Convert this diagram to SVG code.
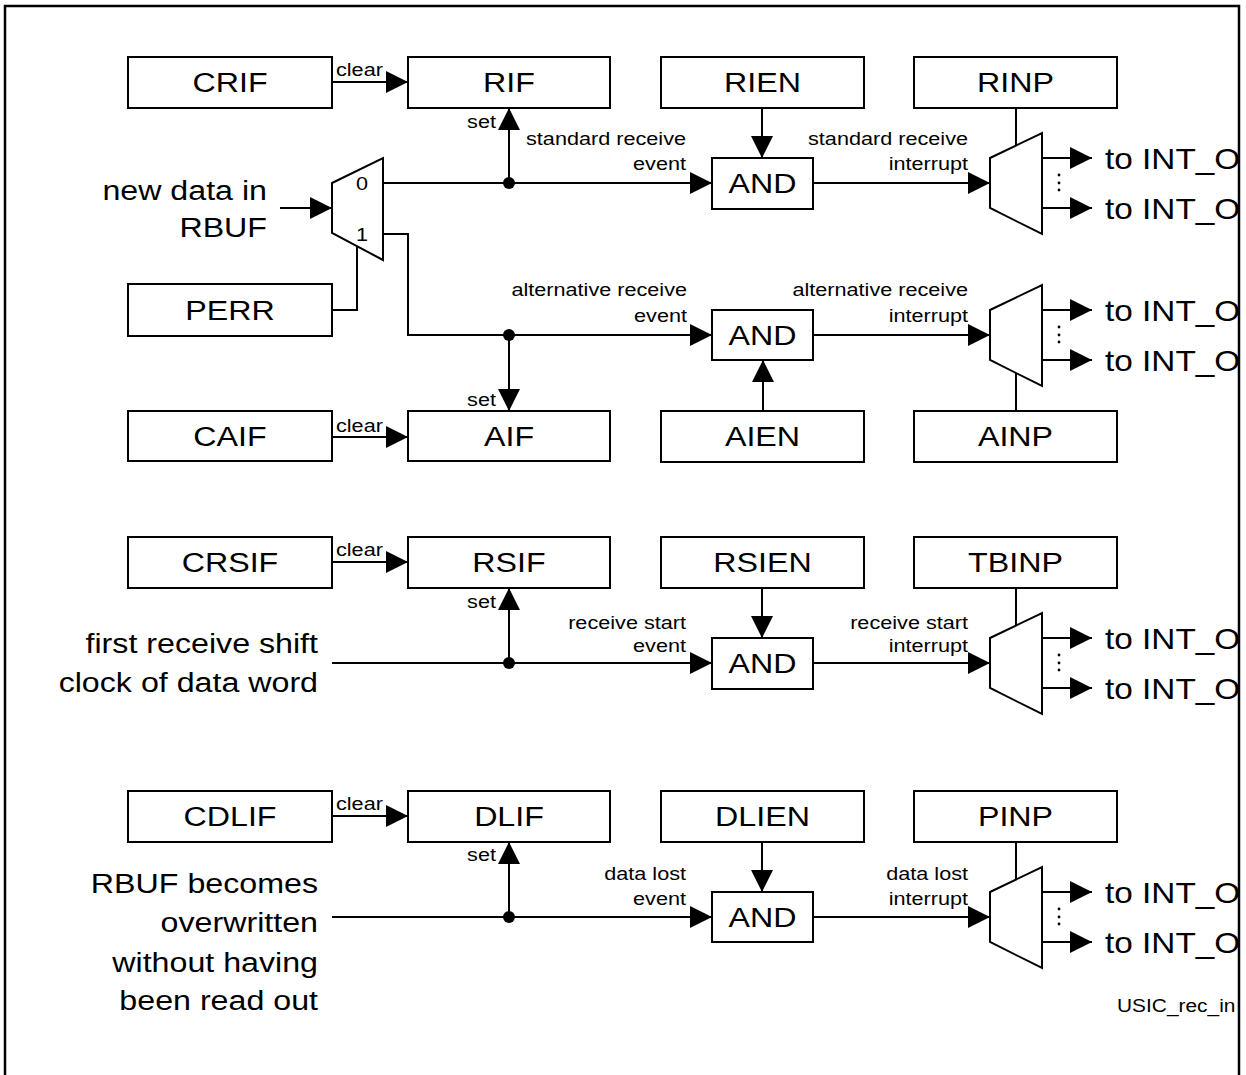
<svg xmlns="http://www.w3.org/2000/svg" width="1246" height="1075" viewBox="0 0 1246 1075">
<style>
.bx{fill:#fff;stroke:#000;stroke-width:2}
.w{fill:none;stroke:#000;stroke-width:2}
.mx{fill:#fff;stroke:#000;stroke-width:2;stroke-linejoin:miter}
.arr{marker-end:url(#ah)}
text{font-family:"Liberation Sans",Arial,sans-serif;fill:#000}
.b{font-size:28px}
.o{font-size:29px}
.s{font-size:18.5px}
.m{text-anchor:middle}
.e{text-anchor:end}
.dot{fill:#000}
</style>
<defs>
<marker id="ah" viewBox="0 0 22 22" refX="22" refY="11" markerWidth="22" markerHeight="22" markerUnits="userSpaceOnUse" orient="auto"><path d="M0,0 L22,11 L0,22 z" fill="#000"/></marker>
<clipPath id="frameclip"><rect x="0" y="0" width="1238" height="1075"/></clipPath>
</defs>
<rect width="1246" height="1075" fill="#fff"/>
<path d="M5,1075 V6 H1239 V1075" fill="none" stroke="#000" stroke-width="2.5"/>

<g id="connectors">
<path class="w arr" d="M332,82 H408"/>
<path class="w arr" d="M509,183 V108"/>
<path class="w arr" d="M383,183 H712"/>
<path class="w arr" d="M762,108 V158"/>
<path class="w arr" d="M813,183 H990"/>
<path class="w" d="M1016,108 V145.5"/>
<path class="w arr" d="M1042,158 H1092"/>
<path class="w arr" d="M1042,208 H1092"/>
<path class="w arr" d="M280,208 H332"/>
<path class="w" d="M332,310 H357 V246"/>
<path class="w arr" d="M383,234 H408 V335 H712"/>
<path class="w arr" d="M509,335 V411"/>
<path class="w arr" d="M332,437 H408"/>
<path class="w arr" d="M763,411 V360"/>
<path class="w arr" d="M813,335 H990"/>
<path class="w" d="M1016,411 V373"/>
<path class="w arr" d="M1042,310 H1092"/>
<path class="w arr" d="M1042,360 H1092"/>
<circle class="dot" cx="509" cy="183" r="6"/>
<circle class="dot" cx="509" cy="335" r="6"/>

<path class="w arr" d="M332,562 H408"/>
<path class="w arr" d="M332,663 H712"/>
<path class="w arr" d="M509,663 V588"/>
<path class="w arr" d="M762,588 V638"/>
<path class="w arr" d="M813,663 H990"/>
<path class="w" d="M1016,588 V625.5"/>
<path class="w arr" d="M1042,638 H1092"/>
<path class="w arr" d="M1042,688 H1092"/>
<circle class="dot" cx="509" cy="663" r="6"/>

<path class="w arr" d="M332,816 H408"/>
<path class="w arr" d="M332,917 H712"/>
<path class="w arr" d="M509,917 V842"/>
<path class="w arr" d="M762,842 V892"/>
<path class="w arr" d="M813,917 H990"/>
<path class="w" d="M1016,842 V879.5"/>
<path class="w arr" d="M1042,892 H1092"/>
<path class="w arr" d="M1042,942 H1092"/>
<circle class="dot" cx="509" cy="917" r="6"/>

<text class="s" transform="matrix(1.17 0 0 1 336 76)">clear</text>
<text class="s e" transform="matrix(1.17 0 0 1 496 128)">set</text>
<text class="s e" transform="matrix(1.17 0 0 1 686 145)">standard receive</text>
<text class="s e" transform="matrix(1.17 0 0 1 686 170)">event</text>
<text class="s e" transform="matrix(1.17 0 0 1 968 145)">standard receive</text>
<text class="s e" transform="matrix(1.17 0 0 1 968 170)">interrupt</text>
<text class="s e" transform="matrix(1.17 0 0 1 687 296)">alternative receive</text>
<text class="s e" transform="matrix(1.17 0 0 1 687 322)">event</text>
<text class="s e" transform="matrix(1.17 0 0 1 968 296)">alternative receive</text>
<text class="s e" transform="matrix(1.17 0 0 1 968 322)">interrupt</text>
<text class="s e" transform="matrix(1.17 0 0 1 496 406)">set</text>
<text class="s" transform="matrix(1.17 0 0 1 336 432)">clear</text>

<text class="s" transform="matrix(1.17 0 0 1 336 556)">clear</text>
<text class="s e" transform="matrix(1.17 0 0 1 496 608)">set</text>
<text class="s e" transform="matrix(1.17 0 0 1 686 629)">receive start</text>
<text class="s e" transform="matrix(1.17 0 0 1 686 652)">event</text>
<text class="s e" transform="matrix(1.17 0 0 1 968 629)">receive start</text>
<text class="s e" transform="matrix(1.17 0 0 1 968 652)">interrupt</text>

<text class="s" transform="matrix(1.17 0 0 1 336 810)">clear</text>
<text class="s e" transform="matrix(1.17 0 0 1 496 861)">set</text>
<text class="s e" transform="matrix(1.17 0 0 1 686 880)">data lost</text>
<text class="s e" transform="matrix(1.17 0 0 1 686 905)">event</text>
<text class="s e" transform="matrix(1.17 0 0 1 968 880)">data lost</text>
<text class="s e" transform="matrix(1.17 0 0 1 968 905)">interrupt</text>
</g>

<g id="inputs">
<text class="b e" transform="matrix(1.15 0 0 1 267 200)">new data in</text>
<text class="b e" transform="matrix(1.15 0 0 1 267 237)">RBUF</text>
<text class="b e" transform="matrix(1.15 0 0 1 318 653)">first receive shift</text>
<text class="b e" transform="matrix(1.15 0 0 1 318 692)">clock of data word</text>
<text class="b e" transform="matrix(1.15 0 0 1 318 893)">RBUF becomes</text>
<text class="b e" transform="matrix(1.15 0 0 1 318 932)">overwritten</text>
<text class="b e" transform="matrix(1.15 0 0 1 318 972)">without having</text>
<text class="b e" transform="matrix(1.15 0 0 1 318 1010)">been read out</text>
</g>

<g id="CRIF"><rect class="bx" x="128" y="57" width="204" height="51"/><text class="b m" transform="matrix(1.15 0 0 1 230 92)">CRIF</text></g>
<g id="RIF"><rect class="bx" x="408" y="57" width="202" height="51"/><text class="b m" transform="matrix(1.15 0 0 1 509 92)">RIF</text></g>
<g id="RIEN"><rect class="bx" x="661" y="57" width="203" height="51"/><text class="b m" transform="matrix(1.15 0 0 1 762.5 92)">RIEN</text></g>
<g id="RINP"><rect class="bx" x="914" y="57" width="203" height="51"/><text class="b m" transform="matrix(1.15 0 0 1 1015.5 92)">RINP</text></g>
<g id="AND1"><rect class="bx" x="712" y="158" width="101" height="51"/><text class="b m" transform="matrix(1.15 0 0 1 762.5 193)">AND</text></g>
<g id="MUXIN"><polygon class="mx" points="332,183 383,158 383,260 332,233"/>
<text class="s m" transform="matrix(1.17 0 0 1 362 190)">0</text>
<text class="s m" transform="matrix(1.17 0 0 1 362 241)">1</text></g>
<g id="PERR"><rect class="bx" x="128" y="284" width="204" height="52"/><text class="b m" transform="matrix(1.15 0 0 1 230 320)">PERR</text></g>
<g id="AND2"><rect class="bx" x="712" y="310" width="101" height="50"/><text class="b m" transform="matrix(1.15 0 0 1 762.5 345)">AND</text></g>
<g id="CAIF"><rect class="bx" x="128" y="411" width="204" height="50"/><text class="b m" transform="matrix(1.15 0 0 1 230 446)">CAIF</text></g>
<g id="AIF"><rect class="bx" x="408" y="411" width="202" height="50"/><text class="b m" transform="matrix(1.15 0 0 1 509 446)">AIF</text></g>
<g id="AIEN"><rect class="bx" x="661" y="411" width="203" height="51"/><text class="b m" transform="matrix(1.15 0 0 1 762.5 446)">AIEN</text></g>
<g id="AINP"><rect class="bx" x="914" y="411" width="203" height="51"/><text class="b m" transform="matrix(1.15 0 0 1 1015.5 446)">AINP</text></g>

<g id="CRSIF"><rect class="bx" x="128" y="537" width="204" height="51"/><text class="b m" transform="matrix(1.15 0 0 1 230 572)">CRSIF</text></g>
<g id="RSIF"><rect class="bx" x="408" y="537" width="202" height="51"/><text class="b m" transform="matrix(1.15 0 0 1 509 572)">RSIF</text></g>
<g id="RSIEN"><rect class="bx" x="661" y="537" width="203" height="51"/><text class="b m" transform="matrix(1.15 0 0 1 762.5 572)">RSIEN</text></g>
<g id="TBINP"><rect class="bx" x="914" y="537" width="203" height="51"/><text class="b m" transform="matrix(1.15 0 0 1 1015.5 572)">TBINP</text></g>
<g id="AND3"><rect class="bx" x="712" y="638" width="101" height="51"/><text class="b m" transform="matrix(1.15 0 0 1 762.5 673)">AND</text></g>

<g id="CDLIF"><rect class="bx" x="128" y="791" width="204" height="51"/><text class="b m" transform="matrix(1.15 0 0 1 230 826)">CDLIF</text></g>
<g id="DLIF"><rect class="bx" x="408" y="791" width="202" height="51"/><text class="b m" transform="matrix(1.15 0 0 1 509 826)">DLIF</text></g>
<g id="DLIEN"><rect class="bx" x="661" y="791" width="203" height="51"/><text class="b m" transform="matrix(1.15 0 0 1 762.5 826)">DLIEN</text></g>
<g id="PINP"><rect class="bx" x="914" y="791" width="203" height="51"/><text class="b m" transform="matrix(1.15 0 0 1 1015.5 826)">PINP</text></g>
<g id="AND4"><rect class="bx" x="712" y="892" width="101" height="50"/><text class="b m" transform="matrix(1.15 0 0 1 762.5 927)">AND</text></g>

<g id="MUX1"><polygon class="mx" points="990,158 1042,133 1042,234 990,208"/>
<circle class="dot" cx="1059" cy="175" r="1.4"/><circle class="dot" cx="1059" cy="183" r="1.4"/><circle class="dot" cx="1059" cy="190" r="1.4"/></g>
<g id="MUX2"><polygon class="mx" points="990,310 1042,285 1042,386 990,360"/>
<circle class="dot" cx="1059" cy="327" r="1.4"/><circle class="dot" cx="1059" cy="335" r="1.4"/><circle class="dot" cx="1059" cy="342" r="1.4"/></g>
<g id="MUX3"><polygon class="mx" points="990,638 1042,613 1042,714 990,688"/>
<circle class="dot" cx="1059" cy="655" r="1.4"/><circle class="dot" cx="1059" cy="663" r="1.4"/><circle class="dot" cx="1059" cy="670" r="1.4"/></g>
<g id="MUX4"><polygon class="mx" points="990,892 1042,867 1042,968 990,942"/>
<circle class="dot" cx="1059" cy="909" r="1.4"/><circle class="dot" cx="1059" cy="917" r="1.4"/><circle class="dot" cx="1059" cy="924" r="1.4"/></g>

<g id="outputs" clip-path="url(#frameclip)">
<text class="o" transform="matrix(1.15 0 0 1 1105 169)">to INT_O</text>
<text class="o" transform="matrix(1.15 0 0 1 1105 219)">to INT_O</text>
<text class="o" transform="matrix(1.15 0 0 1 1105 321)">to INT_O</text>
<text class="o" transform="matrix(1.15 0 0 1 1105 371)">to INT_O</text>
<text class="o" transform="matrix(1.15 0 0 1 1105 649)">to INT_O</text>
<text class="o" transform="matrix(1.15 0 0 1 1105 699)">to INT_O</text>
<text class="o" transform="matrix(1.15 0 0 1 1105 903)">to INT_O</text>
<text class="o" transform="matrix(1.15 0 0 1 1105 953)">to INT_O</text>
<text class="s" transform="matrix(1.13 0 0 1 1117 1012)">USIC_rec_in</text>
</g>
</svg>
